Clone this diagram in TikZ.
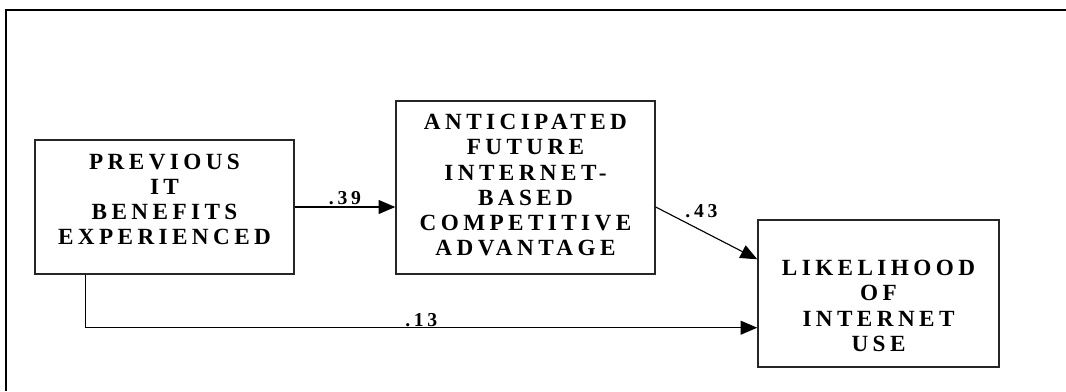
\documentclass[tikz,border=0pt]{standalone}
\usepackage{fontspec}
\setmainfont{Liberation Serif}
\newfontfamily\spacedfont[LetterSpace=19]{Liberation Serif Bold}
\usetikzlibrary{arrows.meta}

\begin{document}
\begin{tikzpicture}[
	box/.style = {draw = black!85, line width = 1pt, inner sep = 0pt},
	caption/.style = {align = center, inner sep = 0pt, font = \spacedfont\fontsize{16.5}{17.9}\selectfont},
	weight/.style = {inner sep = 1pt, font = \spacedfont\fontsize{14}{15}\selectfont},
	link/.style = {line width = 0.8pt, -{Triangle[length = 0.42cm, width = 0.35cm]}}
	]
	\path[use as bounding box] (0, 0) rectangle (26.65, 9.775);
	
	% Frame, only the top and left edges
	\draw[line width = 1.3pt] (0.15, 0) -- (0.15, 9.525) -- (26.65, 9.525);
	
	%% Constructs
	% Previous IT benefits
	\node[box, minimum width = 6.475cm, minimum height = 3.35cm] (prev) at (4.1125, 4.6) {};
	\node[caption] (prev-text) at ([yshift = 0.19cm]prev.center) {PREVIOUS\\IT\\BENEFITS\\EXPERIENCED};
	
	% Anticipated advantage
	\node[box, minimum width = 6.475cm, minimum height = 4.325cm] (antic) at (13.1375, 5.0875) {};
	\node[caption] (antic-text) at ([yshift = 0.06cm]antic.center) {ANTICIPATED\\FUTURE\\INTERNET-\\BASED\\COMPETITIVE\\ADVANTAGE};
	
	% Likelihood of use
	\node[box, minimum width = 6.025cm, minimum height = 3.675cm] (likely) at (21.9625, 2.4375) {};
	\node[caption] (likely-text) at ([yshift = -0.31cm]likely.center) {LIKELIHOOD\\OF\\INTERNET\\USE};
	
	%% Paths and their weights
	\draw[link] (prev.east) -- (prev.east -| antic.west) node[weight, midway, above] (w-prev-antic) {.39};
	
	\draw[link] (prev.east -| antic.east) -- ([yshift = -1cm]likely.north west) node[weight, pos = 0.45, above = 0.28cm] (w-antic-likely) {.43};
	
	\draw[link] ([xshift = 1.275cm]prev.south west) |- ([yshift = 1cm]likely.south west) node[weight, pos = 0.75, above, inner sep = 0.5pt] (w-prev-likely) {.13};
	
\end{tikzpicture}
\end{document}
